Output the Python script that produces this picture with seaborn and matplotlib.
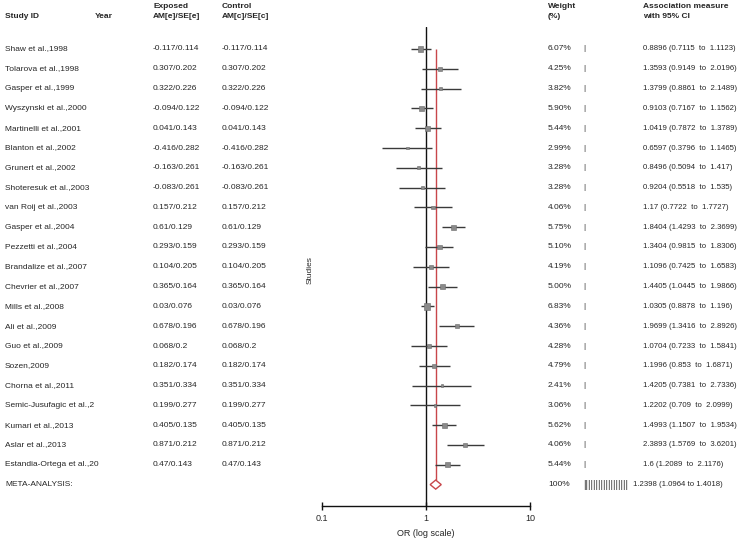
import numpy as np
import pandas as pd
import matplotlib
matplotlib.use("Agg")
import matplotlib.pyplot as plt
import matplotlib.transforms as mtransforms
from matplotlib.ticker import FixedLocator, NullLocator
import seaborn as sns

# ---- data ----
studies = ["Shaw et al.,1998", "Tolarova et al.,1998", "Gasper et al.,1999",
           "Wyszynski et al.,2000", "Martinelli et al.,2001", "Blanton et al.,2002",
           "Grunert et al.,2002", "Shoteresuk et al.,2003", "van Roij et al.,2003",
           "Gasper et al.,2004", "Pezzetti et al.,2004", "Brandalize et al.,2007",
           "Chevrier et al.,2007", "Mills et al.,2008", "Ali et al.,2009",
           "Guo et al.,2009", "Sozen,2009", "Chorna et al.,2011",
           "Semic-Jusufagic et al.,2", "Kumari et al.,2013", "Aslar et al.,2013",
           "Estandia-Ortega et al.,20"]
am = [-0.117, 0.307, 0.322, -0.094, 0.041, -0.416, -0.163, -0.083, 0.157, 0.61, 0.293,
      0.104, 0.365, 0.03, 0.678, 0.068, 0.182, 0.351, 0.199, 0.405, 0.871, 0.47]
se = [0.114, 0.202, 0.226, 0.122, 0.143, 0.282, 0.261, 0.261, 0.212, 0.129, 0.159,
      0.205, 0.164, 0.076, 0.196, 0.2, 0.174, 0.334, 0.277, 0.135, 0.212, 0.143]
weights = [6.07, 4.25, 3.82, 5.90, 5.44, 2.99, 3.28, 3.28, 4.06, 5.75, 5.10,
           4.19, 5.00, 6.83, 4.36, 4.28, 4.79, 2.41, 3.06, 5.62, 4.06, 5.44]
odds = [0.8896, 1.3593, 1.3799, 0.9103, 1.0419, 0.6597, 0.8496, 0.9204, 1.17, 1.8404,
        1.3404, 1.1096, 1.4405, 1.0305, 1.9699, 1.0704, 1.1996, 1.4205, 1.2202,
        1.4993, 2.3893, 1.6]
ci_low = [0.7115, 0.9149, 0.8861, 0.7167, 0.7872, 0.3796, 0.5094, 0.5518, 0.7722,
          1.4293, 0.9815, 0.7425, 1.0445, 0.8878, 1.3416, 0.7233, 0.853, 0.7381,
          0.709, 1.1507, 1.5769, 1.2089]
ci_high = [1.1123, 2.0196, 2.1489, 1.1562, 1.3789, 1.1465, 1.417, 1.535, 1.7727,
           2.3699, 1.8306, 1.6583, 1.9866, 1.196, 2.8926, 1.5841, 1.6871, 2.7336,
           2.0999, 1.9534, 3.6201, 2.1176]
meta_or, meta_low, meta_high = 1.2398, 1.0964, 1.4018

df = pd.DataFrame({"study": studies, "am": am, "se": se, "weight": weights,
                   "or": odds, "lo": ci_low, "hi": ci_high})
df["row"] = np.arange(len(df))
meta_row = len(df)

sns.set_theme(style="white")
plt.rcParams["font.family"] = ["Liberation Sans", "DejaVu Sans"]
FS = 6
TXT = "#262626"
RED = "#c8474b"

W, H = 738, 540
fig = plt.figure(figsize=(W / 100, H / 100), dpi=100)
ax = fig.add_axes([322 / W, (H - 506) / H, 208 / W, (506 - 27) / H])

# row i sits at pixel 49 + 19.8 * i
ax.set_ylim((506 - 49) / 19.8, (27 - 49) / 19.8)
ax.set_xscale("log")
ax.set_xlim(0.1, 10)

# reference line at 1 and pooled estimate line
ax.axvline(1, color="#111111", lw=1)
ax.vlines(meta_or, 0, meta_row - 0.25, color=RED, lw=1)

# confidence intervals and study squares
ax.hlines(df["row"], df["lo"], df["hi"], color="#3a3a3a", lw=1)
sizes = {w: (0.66 * w) ** 2 for w in df["weight"]}
sns.scatterplot(data=df, x="or", y="row", size="weight", sizes=sizes, marker="s",
                color="#8a8a8a", edgecolor="#6a6a6a", linewidth=0.4, legend=False,
                ax=ax, zorder=3)

# pooled diamond
dh = 0.23
ax.fill([meta_low, meta_or, meta_high, meta_or],
        [meta_row, meta_row - dh, meta_row, meta_row + dh],
        facecolor="white", edgecolor=RED, lw=1, zorder=4)

for s in ["top", "right", "left"]:
    ax.spines[s].set_visible(False)
ax.spines["bottom"].set_color("#111111")
ax.spines["bottom"].set_linewidth(1)
ax.set_yticks([])
ax.xaxis.set_major_locator(FixedLocator([0.1, 1, 10]))
ax.xaxis.set_minor_locator(NullLocator())
ax.set_xticklabels(["0.1", "1", "10"])
ax.tick_params(axis="x", direction="inout", length=6, width=1, color="#111111",
               labelsize=FS + 0.5, labelcolor=TXT, pad=3, bottom=True)
ax.set_xlabel("OR (log scale)", fontsize=FS + 0.5, color=TXT, labelpad=4)
ax.set_ylabel("")

# ---- text columns ----
tr = mtransforms.blended_transform_factory(fig.transFigure, ax.transData)
kw = dict(transform=tr, fontsize=FS, color=TXT, va="center", ha="left", clip_on=False)
for _, r in df.iterrows():
    y = r["row"]
    ax.text(5 / W, y, r["study"], **kw)
    ax.text(153 / W, y, f"{r['am']:g}/{r['se']:g}", **kw)
    ax.text(222 / W, y, f"{r['am']:g}/{r['se']:g}", **kw)
    ax.text(548 / W, y, f"{r['weight']:.2f}%", **kw)
    ax.text(583 / W, y, "|", **kw)
    ax.text(643 / W, y, f"{r['or']:g} ({r['lo']:g}  to  {r['hi']:g})",
            **dict(kw, fontsize=5.6))

ax.text(5 / W, meta_row, "META-ANALYSIS:", **kw)
ax.text(548 / W, meta_row, "100%", **kw)
ax.text(583 / W, meta_row, "|" * 18, **dict(kw, fontsize=7))
ax.text(633 / W, meta_row, f"{meta_or:g} ({meta_low:g} to {meta_high:g})",
        **dict(kw, fontsize=5.6))

# rotated axis title
fig.text(310 / W, 1 - 270 / H, "Studies", rotation=90, fontsize=FS, color=TXT,
         ha="center", va="center")

# headers
hk = dict(fontsize=FS, color=TXT, fontweight="bold", ha="left", va="center")
fig.text(5 / W, 1 - 17 / H, "Study ID", **hk)
fig.text(95 / W, 1 - 17 / H, "Year", **hk)
fig.text(153 / W, 1 - 6 / H, "Exposed", **hk)
fig.text(153 / W, 1 - 17 / H, "AM[e]/SE[e]", **hk)
fig.text(222 / W, 1 - 6 / H, "Control", **hk)
fig.text(222 / W, 1 - 17 / H, "AM[c]/SE[c]", **hk)
fig.text(548 / W, 1 - 6 / H, "Weight", **hk)
fig.text(548 / W, 1 - 17 / H, "(%)", **hk)
fig.text(643 / W, 1 - 6 / H, "Association measure", **hk)
fig.text(643 / W, 1 - 17 / H, "with 95% CI", **hk)

fig.savefig("out.png", dpi=100, facecolor="white")
